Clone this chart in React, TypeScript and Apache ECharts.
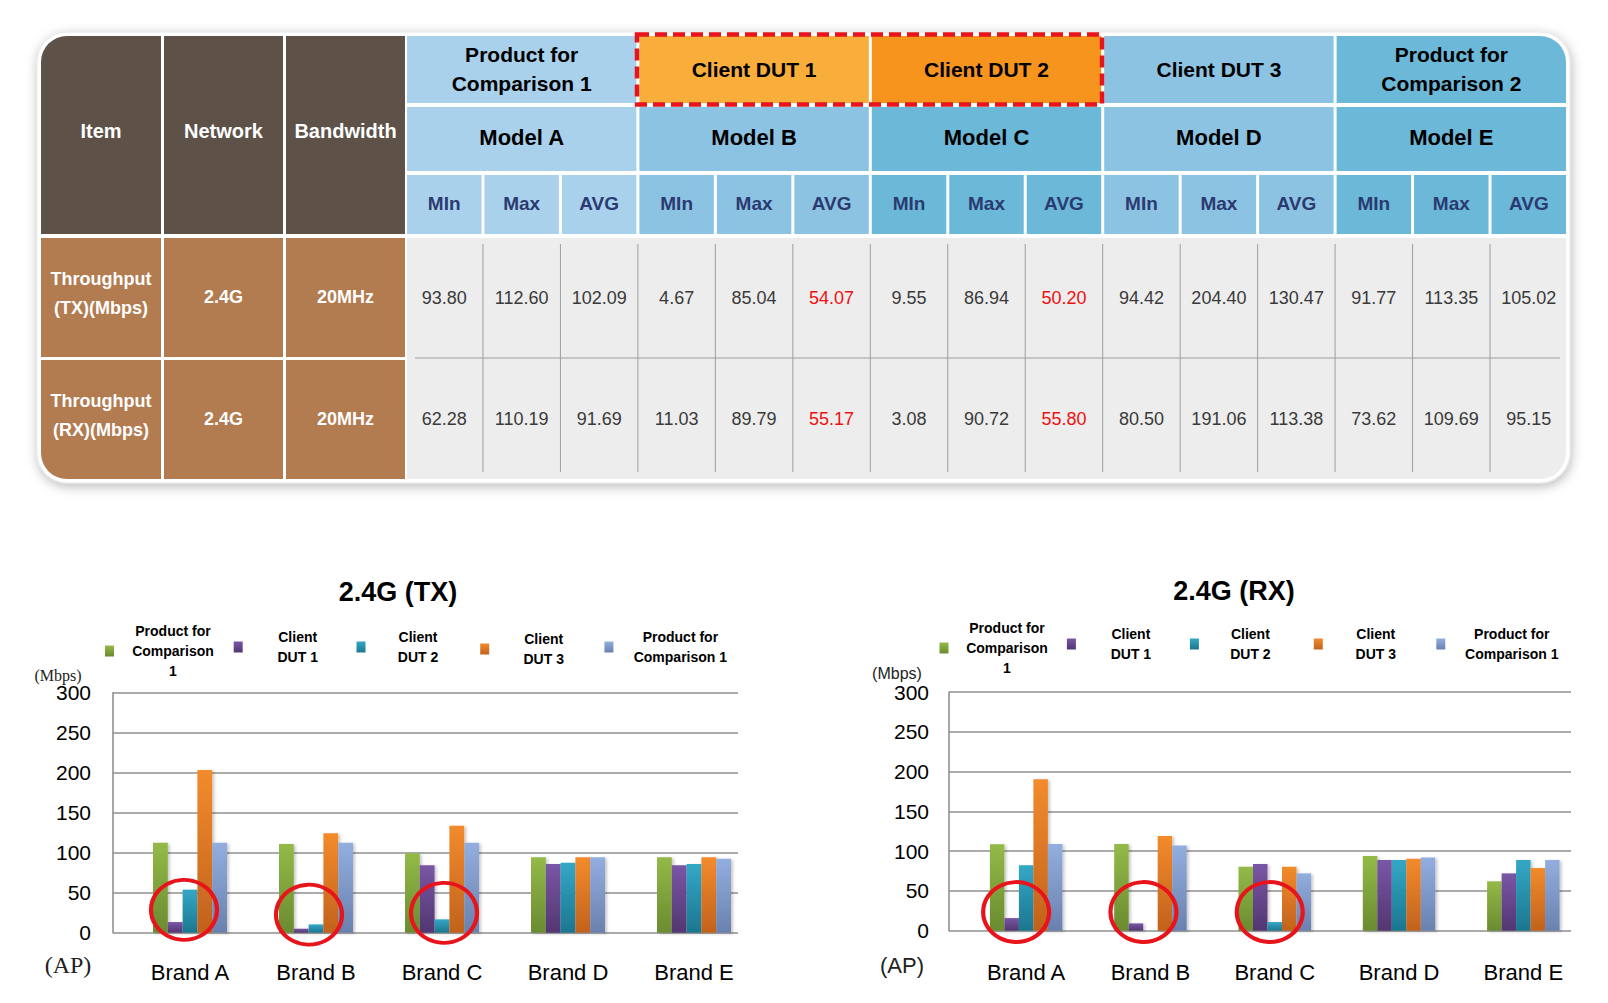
import React, { useEffect, useRef } from "react";
import * as echarts from "echarts";

// ---------------- DATA ----------------
const CATEGORIES = ["Brand A", "Brand B", "Brand C", "Brand D", "Brand E"];
const LEGEND_NAMES = [
  "Product for\nComparison\n1",
  "Client\nDUT 1",
  "Client\nDUT 2",
  "Client\nDUT 3",
  "Product for\nComparison 1",
];

const TX_PC1 = [112.5, 110.8, 99.2, 94.2, 94.2];
const TX_DUT1 = [13.3, 5.0, 84.2, 85.8, 84.2];
const TX_DUT2 = [53.8, 10.4, 16.7, 87.5, 85.8];
const TX_DUT3 = [203.3, 124.2, 133.8, 94.2, 94.2];
const TX_PC1B = [112.5, 112.5, 112.3, 94.2, 92.5];

const RX_PC1 = [108.6, 109.0, 80.5, 93.9, 62.1];
const RX_DUT1 = [15.9, 9.2, 83.9, 88.9, 72.1];
const RX_DUT2 = [82.2, 0, 10.9, 88.9, 88.9];
const RX_DUT3 = [190.4, 119.0, 80.5, 90.6, 78.8];
const RX_PC1B = [109.0, 107.3, 72.1, 92.2, 88.9];

const Y_MIN = 0;
const Y_MAX = 300;
const Y_STEP = 50;

// red circle annotations (category, value at circle centre)
const CIRCLE_CATS = ["Brand A", "Brand B", "Brand C"];
const TX_CIRCLE_Y = [28.6, 22.5, 24.7];
const RX_CIRCLE_Y = [23.5, 23.5, 23.5];

// table
const LEFT_HEADERS = ["Item", "Network", "Bandwidth"];
const PRODUCT_HEADERS = [
  "Product for\nComparison 1",
  "Client DUT 1",
  "Client DUT 2",
  "Client DUT 3",
  "Product for\nComparison 2",
];
const MODEL_HEADERS = ["Model A", "Model B", "Model C", "Model D", "Model E"];
const STAT_HEADERS = ["MIn", "Max", "AVG"];
const ROW_LABELS = [
  ["Throughput\n(TX)(Mbps)", "2.4G", "20MHz"],
  ["Throughput\n(RX)(Mbps)", "2.4G", "20MHz"],
];
const TX_VALUES = ["93.80", "112.60", "102.09", "4.67", "85.04", "54.07", "9.55", "86.94", "50.20", "94.42", "204.40", "130.47", "91.77", "113.35", "105.02"];
const RX_VALUES = ["62.28", "110.19", "91.69", "11.03", "89.79", "55.17", "3.08", "90.72", "55.80", "80.50", "191.06", "113.38", "73.62", "109.69", "95.15"];
const RED_COLUMNS = [5, 8];

// ---------------- STYLE / LAYOUT ----------------
const FONT = "'Liberation Sans', Arial, Helvetica, sans-serif";
const SERIF = "'Liberation Serif', 'Times New Roman', serif";

const BAR_COLORS = [
  ["#93BA48", "#6A8B30"],
  ["#7A56A6", "#523771"],
  ["#33A8C6", "#1D7690"],
  ["#F38B2C", "#C1621D"],
  ["#92AEDF", "#6A81AE"],
];

const DARK = "#5E5147";
const TAN = "#B27B50";
const BLUE_A = "#A9D1EC";
const BLUE_B = "#8DC3E2";
const BLUE_C = "#6BB8D9";
const ROW1_COLORS = [BLUE_A, "#F9AE3C", "#F7941D", BLUE_B, BLUE_C];
const GROUP_COLORS = [BLUE_A, BLUE_B, BLUE_C, BLUE_B, BLUE_C];

function buildTable(): any[] {
  const els: any[] = [];
  const X0 = 41, X1 = 1566, Y0 = 36, Y1 = 479;
  const R = 26;
  const LEFT_COLS = [[41, 161], [164, 283], [286, 405]];
  const HR = [[36, 103], [107, 171], [175, 234]];
  const BR = [[238, 357], [360, 479]];
  const DX = 407;
  const GAP = 3;
  const COL_W = (X1 - DX + GAP) / 15;

  // frame with shadow
  els.push({
    type: "rect",
    shape: { x: X0 - 4, y: Y0 - 4, width: X1 - X0 + 8, height: Y1 - Y0 + 8, r: R + 4 },
    style: { fill: "#ffffff", stroke: "#e6e6e6", lineWidth: 1, shadowBlur: 12, shadowOffsetY: 3, shadowOffsetX: 1, shadowColor: "rgba(0,0,0,0.28)" },
  });

  const txt = (text: string, x: number, y: number, o: any) => ({
    type: "text",
    x,
    y,
    style: { text, align: "center", verticalAlign: "middle", fontFamily: FONT, ...o },
  });

  // left header cells
  LEFT_COLS.forEach(([a, b], i) => {
    els.push({
      type: "rect",
      shape: { x: a, y: HR[0][0], width: b - a, height: HR[2][1] - HR[0][0], r: i === 0 ? [R, 0, 0, 0] : 0 },
      style: { fill: DARK },
    });
    els.push(txt(LEFT_HEADERS[i], (a + b) / 2, 131, { fill: "#ffffff", fontSize: 20, fontWeight: "bold" }));
  });

  // body label cells
  BR.forEach(([t, bt], r) => {
    LEFT_COLS.forEach(([a, b], i) => {
      els.push({
        type: "rect",
        shape: { x: a, y: t, width: b - a, height: bt - t, r: r === 1 && i === 0 ? [0, 0, 0, R] : 0 },
        style: { fill: TAN },
      });
      const cy = i === 0 ? (t + bt) / 2 - 4 : (t + bt) / 2 - 1;
      els.push(txt(ROW_LABELS[r][i], (a + b) / 2, cy, { fill: "#ffffff", fontSize: 18, fontWeight: "bold", lineHeight: 29 }));
    });
  });

  // data area
  els.push({
    type: "rect",
    shape: { x: DX, y: BR[0][0], width: X1 - DX, height: Y1 - BR[0][0], r: [0, 0, R, 0] },
    style: { fill: "#EDEDED" },
  });

  // group headers
  for (let g = 0; g < 5; g++) {
    const gx = DX + g * 3 * COL_W;
    const gw = 3 * COL_W - GAP;
    els.push({
      type: "rect",
      shape: { x: gx, y: HR[0][0], width: gw, height: HR[0][1] - HR[0][0], r: g === 4 ? [0, R, 0, 0] : 0 },
      style: { fill: ROW1_COLORS[g] },
    });
    els.push(txt(PRODUCT_HEADERS[g], gx + gw / 2, 69, { fill: "#000000", fontSize: 21, fontWeight: "bold", lineHeight: 29 }));
    els.push({
      type: "rect",
      shape: { x: gx, y: HR[1][0], width: gw, height: HR[1][1] - HR[1][0] },
      style: { fill: GROUP_COLORS[g] },
    });
    els.push(txt(MODEL_HEADERS[g], gx + gw / 2, 137.5, { fill: "#000000", fontSize: 22, fontWeight: "bold" }));
    for (let k = 0; k < 3; k++) {
      const cx = DX + (3 * g + k) * COL_W;
      const cw = COL_W - GAP;
      els.push({
        type: "rect",
        shape: { x: cx, y: HR[2][0], width: cw, height: HR[2][1] - HR[2][0] },
        style: { fill: GROUP_COLORS[g] },
      });
      els.push(txt(STAT_HEADERS[k], cx + cw / 2, 203, { fill: "#2B3A70", fontSize: 19, fontWeight: "bold" }));
    }
  }

  // grid lines inside data area
  for (let c = 1; c < 15; c++) {
    const x = DX + c * COL_W - GAP / 2;
    els.push({ type: "line", shape: { x1: x, y1: 244, x2: x, y2: 472 }, style: { stroke: "#9E9E9E", lineWidth: 1 } });
  }
  els.push({ type: "line", shape: { x1: 415, y1: 358, x2: 1560, y2: 358 }, style: { stroke: "#9E9E9E", lineWidth: 1 } });

  // values
  [TX_VALUES, RX_VALUES].forEach((vals, r) => {
    const cy = r === 0 ? 297.5 : 418.5;
    vals.forEach((v, c) => {
      const cx = DX + c * COL_W + (COL_W - GAP) / 2;
      els.push(txt(v, cx, cy, { fill: RED_COLUMNS.indexOf(c) >= 0 ? "#EE1111" : "#3A3A3A", fontSize: 18 }));
    });
  });

  // red dashed highlight
  els.push({
    type: "rect",
    shape: { x: 637, y: 34.5, width: 465, height: 70 },
    style: { fill: "none", stroke: "#E8141B", lineWidth: 4.5, lineDash: [12, 6] },
    z: 10,
  });

  // chart side texts
  els.push(txt("(Mbps)", 58, 675, { fill: "#222", fontSize: 16, fontFamily: SERIF }));
  els.push(txt("(AP)", 68, 965, { fill: "#222", fontSize: 24, fontFamily: SERIF }));
  els.push(txt("(Mbps)", 897, 673, { fill: "#222", fontSize: 16 }));
  els.push(txt("(AP)", 902, 965, { fill: "#222", fontSize: 22 }));

  return els;
}

const LEGEND_LAYOUT_TX = [
  { left: 105, top: 624, w: 108 },
  { left: 233.7, top: 630, w: 100 },
  { left: 356.5, top: 630, w: 95 },
  { left: 480.2, top: 632, w: 99 },
  { left: 604.4, top: 630, w: 124 },
];
const LEGEND_LAYOUT_RX = [
  { left: 939.5, top: 621, w: 107 },
  { left: 1066.9, top: 627, w: 100 },
  { left: 1189.9, top: 627, w: 93 },
  { left: 1313.8, top: 627, w: 96 },
  { left: 1436.3, top: 627, w: 123 },
];

function buildLegends(layout: any[]) {
  return layout.map((l, i) => ({
    data: [LEGEND_NAMES[i]],
    left: l.left,
    top: l.top,
    padding: 0,
    itemWidth: 9,
    itemHeight: 11,
    icon: "rect",
    selectedMode: false,
    formatter: (n: string) => `{w|${n}}`,
    textStyle: {
      rich: {
        w: { width: l.w, align: "center", fontSize: 14, fontWeight: "bold", lineHeight: 20, fontFamily: FONT, color: "#000" },
      },
    },
  }));
}

function grad(i: number) {
  return {
    type: "linear",
    x: 0,
    y: 0,
    x2: 0,
    y2: 1,
    colorStops: [
      { offset: 0, color: BAR_COLORS[i][0] },
      { offset: 1, color: BAR_COLORS[i][1] },
    ],
  };
}

function buildSeries(sets: number[][], axisIdx: number, barWidth: number, circleY: number[], circleOffsets: number[]) {
  return sets.map((vals, i) => {
    const s: any = {
      name: LEGEND_NAMES[i],
      type: "bar",
      xAxisIndex: axisIdx,
      yAxisIndex: axisIdx,
      data: vals,
      barWidth,
      barGap: "0%",
      itemStyle: {
        color: grad(i),
        shadowBlur: 3,
        shadowOffsetX: 2,
        shadowOffsetY: 1,
        shadowColor: "rgba(0,0,0,0.22)",
      },
    };
    if (i === 2) {
      s.markPoint = {
        symbol: "circle",
        symbolSize: [66, 60],
        silent: true,
        label: { show: false },
        itemStyle: { color: "rgba(0,0,0,0)", borderColor: "#E8141B", borderWidth: 4, shadowBlur: 0 },
        data: CIRCLE_CATS.map((c, k) => ({ coord: [c, circleY[k]], symbolOffset: [circleOffsets[k], 0] })),
      };
    }
    return s;
  });
}

const valueAxisShown = (gridIndex: number, margin: number) => ({
  gridIndex,
  type: "value",
  min: Y_MIN,
  max: Y_MAX,
  interval: Y_STEP,
  axisLine: { show: true, lineStyle: { color: "#8A8A8A", width: 1.5 } },
  axisTick: { show: false },
  splitLine: { show: true, lineStyle: { color: "#8F8F8F", width: 1.5 } },
  axisLabel: { margin, fontSize: 21, color: "#000", fontFamily: FONT },
});
const valueAxisHidden = (gridIndex: number) => ({
  gridIndex,
  type: "value",
  min: Y_MIN,
  max: Y_MAX,
  interval: Y_STEP,
  show: false,
  splitLine: { show: false },
});
const catAxisHidden = (gridIndex: number) => ({ gridIndex, type: "category", data: CATEGORIES, show: false });
const catAxisShown = (gridIndex: number, margin: number) => ({
  gridIndex,
  type: "category",
  data: CATEGORIES,
  axisLine: { show: false },
  axisTick: { show: false },
  axisLabel: { margin, fontSize: 22, color: "#000", fontFamily: FONT },
});

export default function App() {
  const ref = useRef<HTMLDivElement>(null);
  useEffect(() => {
    if (!ref.current) return;
    const chart = echarts.init(ref.current, undefined, { renderer: "svg" });
    const option: any = {
      animation: false,
      backgroundColor: "#ffffff",
      textStyle: { fontFamily: FONT },
      title: [
        { text: "2.4G (TX)", left: 398, top: 578, textAlign: "center", padding: 0, textStyle: { fontSize: 27, fontWeight: "bold", color: "#000", fontFamily: FONT } },
        { text: "2.4G (RX)", left: 1234, top: 577, textAlign: "center", padding: 0, textStyle: { fontSize: 27, fontWeight: "bold", color: "#000", fontFamily: FONT } },
      ],
      legend: [...buildLegends(LEGEND_LAYOUT_TX), ...buildLegends(LEGEND_LAYOUT_RX)],
      grid: [
        { left: 113, top: 692.7, width: 625, height: 240, outerBoundsMode: "none" },
        { left: 127, top: 692.7, width: 630, height: 240, outerBoundsMode: "none" },
        { left: 949, top: 692.2, width: 622, height: 238.5, outerBoundsMode: "none" },
        { left: 964, top: 692.2, width: 621.5, height: 238.5, outerBoundsMode: "none" },
      ],
      xAxis: [catAxisHidden(0), catAxisShown(1, 29), catAxisHidden(2), catAxisShown(3, 31)],
      yAxis: [valueAxisShown(0, 22), valueAxisHidden(1), valueAxisShown(2, 20), valueAxisHidden(3)],
      series: [
        ...buildSeries([TX_PC1, TX_DUT1, TX_DUT2, TX_DUT3, TX_PC1B], 1, 14.8, TX_CIRCLE_Y, [-6, -7, 2]),
        ...buildSeries([RX_PC1, RX_DUT1, RX_DUT2, RX_DUT3, RX_PC1B], 3, 14.5, RX_CIRCLE_Y, [-10, -7, -5]),
      ],
      graphic: { elements: buildTable() },
    };
    chart.setOption(option);
    return () => chart.dispose();
  }, []);
  return (
    <div
      ref={ref}
      style={{ position: "absolute", left: 0, top: 0, width: 1608, height: 1003, background: "#fff" }}
    />
  );
}
